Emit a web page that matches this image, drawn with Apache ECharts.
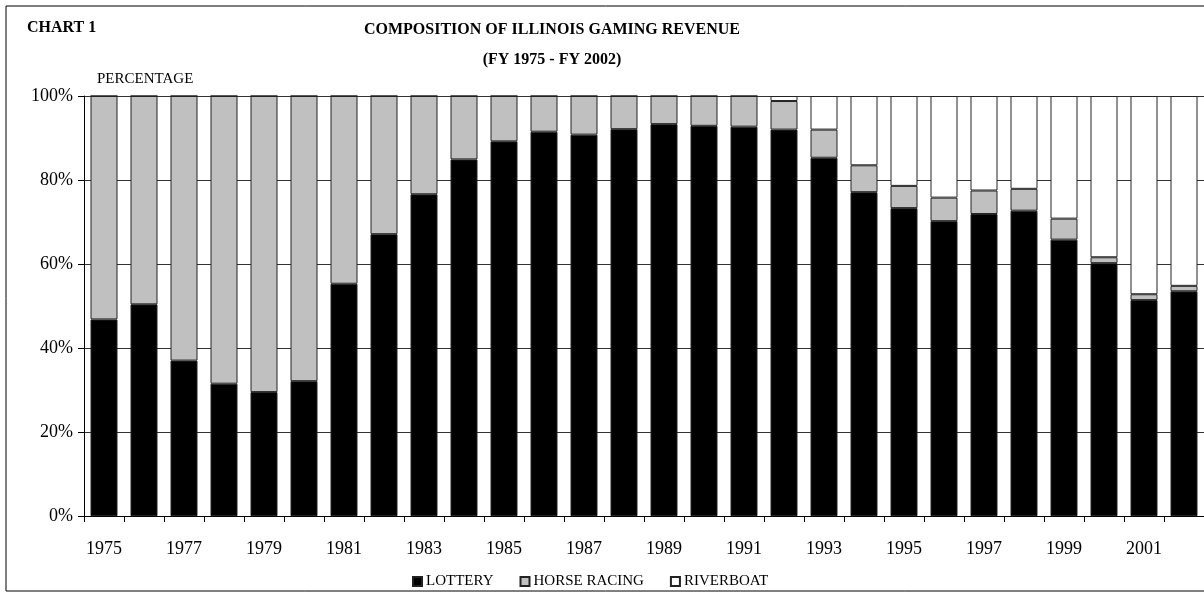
<!DOCTYPE html>
<html>
<head>
<meta charset="utf-8">
<script src="https://cdn.jsdelivr.net/npm/echarts@6/dist/echarts.min.js"></script>
<style>
html,body{margin:0;padding:0;background:#fff;}
#chart{width:1204px;height:597px;}
</style>
</head>
<body>
<div id="chart"></div>
<script>
const years = ['1975','1976','1977','1978','1979','1980','1981','1982','1983','1984','1985','1986','1987','1988','1989','1990','1991','1992','1993','1994','1995','1996','1997','1998','1999','2000','2001','2002'];
const lottery = [46.8,50.4,37.0,31.5,29.5,32.1,55.3,67.1,76.6,84.9,89.2,91.5,90.8,92.1,93.3,92.9,92.7,92.0,85.3,77.1,73.3,70.2,71.9,72.7,65.8,60.2,51.4,53.5];
const horseRacing = [53.2,49.6,63.0,68.5,70.5,67.9,44.7,32.9,23.4,15.1,10.8,8.5,9.2,7.9,6.7,7.1,7.3,6.8,6.7,6.4,5.3,5.6,5.6,5.2,5.0,1.4,1.4,1.3];
const riverboat = [0,0,0,0,0,0,0,0,0,0,0,0,0,0,0,0,0,1.2,8.0,16.5,21.4,24.2,22.5,22.1,29.2,38.4,47.2,45.2];
const yTicks = [0,20,40,60,80,100];

const FONT = '"Liberation Serif", "Times New Roman", serif';
const chart = echarts.init(document.getElementById('chart'));
const barStyle = (c) => ({color: c, borderColor: '#222', borderWidth: 1});
chart.setOption({
  animation: false,
  textStyle: {fontFamily: FONT, color: '#000'},
  graphic: [
    {type: 'rect', shape: {x: 6, y: 6, width: 1210, height: 585}, style: {fill: 'none', stroke: '#000', lineWidth: 1}, silent: true, z: -1},
    {type: 'text', x: 27, y: 28, style: {text: 'CHART 1', font: 'bold 16px ' + FONT, fill: '#000', verticalAlign: 'middle'}},
    {type: 'text', x: 552, y: 30, style: {text: 'COMPOSITION OF ILLINOIS GAMING REVENUE', font: 'bold 16px ' + FONT, fill: '#000', align: 'center', verticalAlign: 'middle'}},
    {type: 'text', x: 552, y: 60, style: {text: '(FY 1975 - FY 2002)', font: 'bold 16px ' + FONT, fill: '#000', align: 'center', verticalAlign: 'middle'}},
    {type: 'text', x: 97, y: 79, style: {text: 'PERCENTAGE', font: '15px ' + FONT, fill: '#000', verticalAlign: 'middle'}}
  ],
  grid: {left: 84, right: 0, top: 96, bottom: 81, containLabel: false},
  legend: {
    bottom: 3, left: 407,
    itemWidth: 9, itemHeight: 9, itemGap: 26,
    icon: 'rect',
    textStyle: {fontFamily: FONT, fontSize: 15, color: '#000', padding: [0, 0, 0, -1]},
    data: ['LOTTERY', 'HORSE RACING', 'RIVERBOAT']
  },
  xAxis: {
    type: 'category', data: years, boundaryGap: true,
    axisLine: {show: true, lineStyle: {color: '#000', width: 1}},
    axisTick: {show: true, length: 6, interval: 0, lineStyle: {color: '#000'}},
    axisLabel: {interval: 1, fontSize: 18, color: '#000', fontFamily: FONT, margin: 24},
    splitLine: {show: false}
  },
  yAxis: {
    type: 'value', min: yTicks[0], max: yTicks[yTicks.length - 1], interval: 20,
    axisLine: {show: true, lineStyle: {color: '#000', width: 1}},
    axisTick: {show: true, length: 6, lineStyle: {color: '#000'}},
    axisLabel: {fontSize: 18, color: '#000', fontFamily: FONT, margin: 11, formatter: '{value}%'},
    splitLine: {show: true, lineStyle: {color: '#333', width: 1}}
  },
  series: [
    {name: 'LOTTERY', type: 'bar', stack: 'total', data: lottery, barWidth: 27, itemStyle: barStyle('#000000')},
    {name: 'HORSE RACING', type: 'bar', stack: 'total', data: horseRacing, barWidth: 27, itemStyle: barStyle('#c0c0c0')},
    {name: 'RIVERBOAT', type: 'bar', stack: 'total', data: riverboat, barWidth: 27, itemStyle: barStyle('#ffffff')}
  ]
});
</script>
</body>
</html>
